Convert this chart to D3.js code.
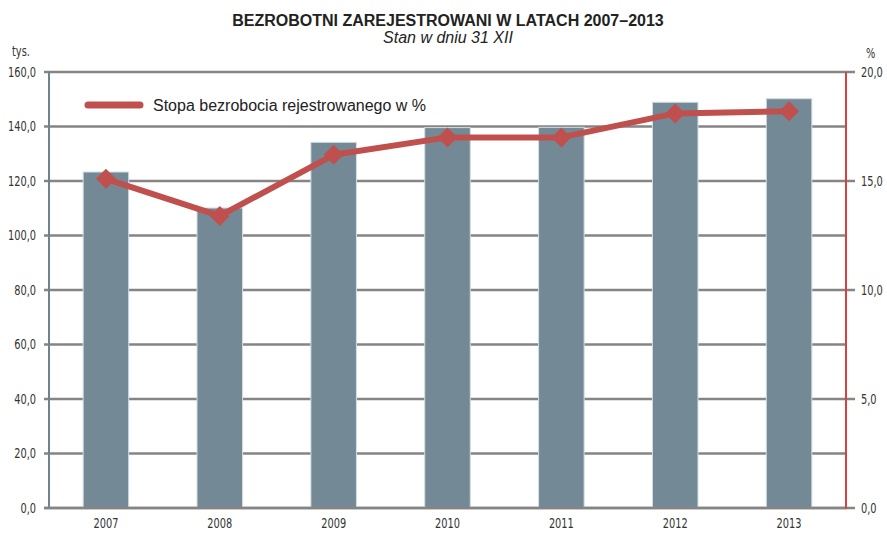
<!DOCTYPE html>
<html>
<head>
<meta charset="utf-8">
<script src="https://cdn.jsdelivr.net/npm/d3@7"></script>
<style>
  body { margin: 0; background: #fff; }
  svg { display: block; }
  .tick-lbl { font-family: "DejaVu Sans", sans-serif; font-size: 14px; fill: #333; }
  .title { font-family: "Liberation Sans", Arial, sans-serif; font-size: 16px; font-weight: bold; fill: #222; }
  .subtitle { font-family: "Liberation Sans", Arial, sans-serif; font-size: 16px; font-style: italic; fill: #222; }
  .legend { font-family: "Liberation Sans", Arial, sans-serif; font-size: 16px; fill: #222; }
</style>
</head>
<body>
<div id="chart"></div>
<script>
var years = ["2007", "2008", "2009", "2010", "2011", "2012", "2013"];
var unemployed = [123.3, 110.1, 134.2, 139.6, 139.7, 148.9, 150.2];
var rate = [15.1, 13.4, 16.2, 17.0, 17.0, 18.1, 18.2];
var leftTicks = [0, 20, 40, 60, 80, 100, 120, 140, 160];
var rightTicks = [0, 5, 10, 15, 20];

var fmt = function(v) { return d3.format(".1f")(v).replace(".", ","); };

// no condensed font installed, so squeeze the labels horizontally
var narrow = function(sel) {
  sel.attr('class', 'tick-lbl').each(function() {
    var w = this.getComputedTextLength();
    d3.select(this).attr('textLength', w * 0.7).attr('lengthAdjust', 'spacingAndGlyphs');
  });
};

var svg = d3.select('#chart').append('svg')
  .attr('width', 887)
  .attr('height', 533);

var plotLeft = 49, plotRight = 846, plotTop = 72, plotBottom = 508;

let xScale = d3.scaleBand().domain(years).range([plotLeft, plotRight]).paddingInner(0.6).paddingOuter(0.3);
let yLeft = d3.scaleLinear().domain([0, 160]).range([plotBottom, plotTop]);
let yRight = d3.scaleLinear().domain([0, 20]).range([plotBottom, plotTop]);

// gridlines
svg.append('g').attr('class', 'grid')
  .selectAll('line').data(leftTicks).enter().append('line')
  .attr('x1', plotLeft - 5).attr('x2', plotRight)
  .attr('y1', d => yLeft(d)).attr('y2', d => yLeft(d))
  .attr('stroke', '#858585').attr('stroke-width', 2.5);

// left axis
let yAxisL = d3.axisLeft(yLeft).tickValues(leftTicks).tickFormat(fmt).tickSize(0).tickPadding(8);
let yl = svg.append('g').attr('transform', 'translate(' + (plotLeft - 5) + ',0)').call(yAxisL);
yl.select('.domain').remove();
yl.selectAll('text').call(narrow);

// right axis
let yAxisR = d3.axisRight(yRight).tickValues(rightTicks).tickFormat(fmt).tickSize(0).tickPadding(6);
let yr = svg.append('g').attr('transform', 'translate(' + (plotRight + 9) + ',0)').call(yAxisR);
yr.select('.domain').remove();
yr.selectAll('text').call(narrow);
svg.append('g').selectAll('line').data(rightTicks).enter().append('line')
  .attr('x1', plotRight).attr('x2', plotRight + 9)
  .attr('y1', d => yRight(d)).attr('y2', d => yRight(d))
  .attr('stroke', '#858585').attr('stroke-width', 2.5);

// bars
svg.append('g').attr('class', 'bars')
  .selectAll('rect').data(unemployed).enter().append('rect')
  .attr('x', (d, i) => xScale(years[i]))
  .attr('y', d => yLeft(d))
  .attr('width', xScale.bandwidth())
  .attr('height', d => plotBottom - yLeft(d))
  .attr('fill', '#738a96')
  .attr('stroke', '#d3dde2').attr('stroke-width', 1);

// left axis line
svg.append('line').attr('x1', plotLeft).attr('x2', plotLeft).attr('y1', plotTop).attr('y2', plotBottom)
  .attr('stroke', '#6d838f').attr('stroke-width', 2);
// bottom line
svg.append('line').attr('x1', plotLeft - 5).attr('x2', plotRight).attr('y1', plotBottom).attr('y2', plotBottom)
  .attr('stroke', '#858585').attr('stroke-width', 2.5);
// right axis line
svg.append('line').attr('x1', plotRight).attr('x2', plotRight).attr('y1', plotTop).attr('y2', plotBottom + 1)
  .attr('stroke', '#d9413f').attr('stroke-width', 2);

// x labels
let xAxis = d3.axisBottom(xScale).tickSize(0).tickPadding(10);
let xa = svg.append('g').attr('transform', 'translate(0,' + plotBottom + ')').call(xAxis);
xa.select('.domain').remove();
xa.selectAll('text').call(narrow);

// rate line
let line = d3.line()
  .x((d, i) => xScale(years[i]) + xScale.bandwidth() / 2)
  .y(d => yRight(d));
svg.append('path').datum(rate)
  .attr('d', line)
  .attr('fill', 'none')
  .attr('stroke', '#c0504d')
  .attr('stroke-width', 6)
  .attr('stroke-linejoin', 'round');

svg.append('g').selectAll('path').data(rate).enter().append('path')
  .attr('d', 'M0,-10L10,0L0,10L-10,0Z')
  .attr('transform', (d, i) => 'translate(' + (xScale(years[i]) + xScale.bandwidth() / 2) + ',' + yRight(d) + ')')
  .attr('fill', '#c0504d');

// legend
svg.append('line').attr('x1', 88).attr('x2', 140).attr('y1', 105).attr('y2', 105)
  .attr('stroke', '#c0504d').attr('stroke-width', 7).attr('stroke-linecap', 'round');
svg.append('text').attr('class', 'legend').attr('x', 153).attr('y', 111)
  .text('Stopa bezrobocia rejestrowanego w %');

// titles
svg.append('text').attr('class', 'title').attr('x', 448).attr('y', 26)
  .attr('text-anchor', 'middle').text('BEZROBOTNI ZAREJESTROWANI W LATACH 2007–2013');
svg.append('text').attr('class', 'subtitle').attr('x', 448).attr('y', 43)
  .attr('text-anchor', 'middle').text('Stan w dniu 31 XII');

// units
svg.append('text').attr('x', 12).attr('y', 56).text('tys.').call(narrow);
svg.append('text').attr('x', 866).attr('y', 58).text('%').call(narrow);
</script>
</body>
</html>
